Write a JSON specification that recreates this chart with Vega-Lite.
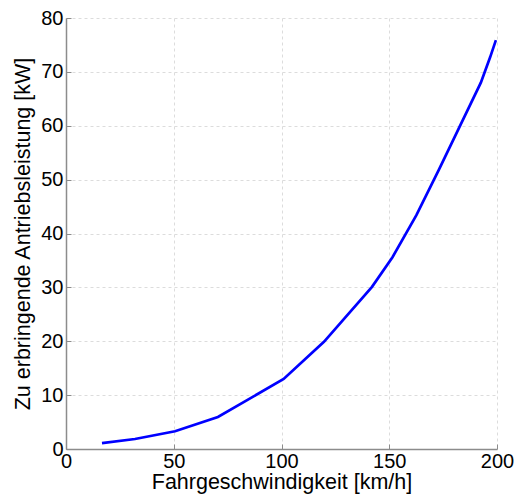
{
  "$schema": "https://vega.github.io/schema/vega-lite/v6.json",
  "width": 431,
  "height": 431,
  "autosize": {"type": "none"},
  "padding": {"left": 66, "top": 18, "right": 20, "bottom": 55},
  "background": "white",
  "config": {
    "view": {"stroke": null},
    "font": "Liberation Sans",
    "axis": {
      "labelFont": "Liberation Sans",
      "titleFont": "Liberation Sans",
      "labelFontSize": 20,
      "titleFontSize": 21.5,
      "labelColor": "black",
      "titleColor": "black",
      "titleFontWeight": "normal",
      "domainColor": "#8c8c8c",
      "domainWidth": 1.5,
      "tickColor": "#8c8c8c",
      "tickSize": -5,
      "gridColor": "#dcdcdc",
      "gridDash": [3, 3],
      "gridWidth": 1
    }
  },
  "data": {
    "values": [
      {"v": 16.7, "p": 1.1},
      {"v": 32, "p": 1.85},
      {"v": 50.6, "p": 3.3},
      {"v": 70.5, "p": 5.95},
      {"v": 101, "p": 13},
      {"v": 119.7, "p": 19.9},
      {"v": 142, "p": 30.1},
      {"v": 151.5, "p": 35.6},
      {"v": 162.6, "p": 43.4},
      {"v": 173, "p": 51.8},
      {"v": 192.5, "p": 68},
      {"v": 196.8, "p": 72.7},
      {"v": 199.5, "p": 75.9}
    ]
  },
  "mark": {"type": "line", "color": "#0000ff", "strokeWidth": 2.7, "clip": true},
  "encoding": {
    "x": {
      "field": "v",
      "type": "quantitative",
      "title": "Fahrgeschwindigkeit [km/h]",
      "scale": {"domain": [0, 200], "nice": false, "zero": false},
      "axis": {"values": [0, 50, 100, 150, 200], "labelPadding": 7, "titlePadding": 0, "labelFlush": false}
    },
    "y": {
      "field": "p",
      "type": "quantitative",
      "title": "Zu erbringende Antriebsleistung [kW]",
      "scale": {"domain": [0, 80], "nice": false},
      "axis": {"values": [0, 10, 20, 30, 40, 50, 60, 70, 80], "labelPadding": 8, "titlePadding": 6, "labelFlush": false}
    }
  }
}
